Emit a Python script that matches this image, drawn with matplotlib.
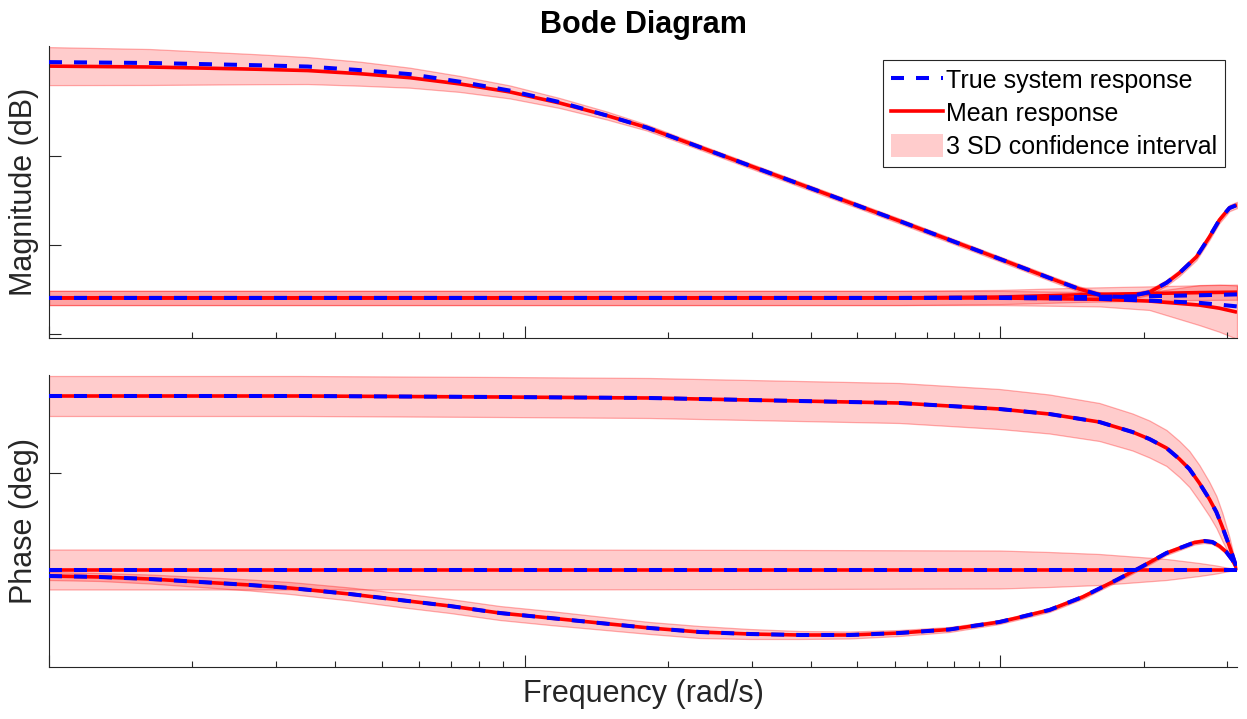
import numpy as np
import matplotlib
matplotlib.use("Agg")
import matplotlib.pyplot as plt
from matplotlib.patches import Patch
from matplotlib.lines import Line2D
from matplotlib.ticker import LogLocator, NullFormatter, FixedLocator

plt.rcParams['font.family'] = ['Liberation Sans', 'DejaVu Sans']

# ---------------- data (rad/s, dB, deg) ----------------
# Magnitude curve 1 (roll-off with high-frequency resonance)
m1_freq = [1.0, 1.63, 2.735, 3.50, 4.50, 5.73, 7.30, 9.30, 11.85, 14.87, 18.05, 23.32,
           37.8, 61.3, 99.5, 126.7, 146.5, 161.4, 171.9, 183.9, 205.6, 223.3, 237.7,
           258.1, 274.8, 288.4, 302.8, 314.16]
m1_true = [21.1, 20.9, 20.4, 20.1, 19.3, 18.4, 16.7, 14.7, 12.1, 9.1, 6.4, 2.0,
           -6.3, -14.6, -23.1, -27.4, -29.9, -31.2, -31.6, -31.7, -30.6, -28.5, -26.3,
           -22.7, -18.2, -14.4, -11.7, -11.0]
m1_mean = [20.2, 20.0, 19.5, 19.2, 18.5, 17.6, 16.2, 14.4, 11.9, 9.1, 6.4, 2.0,
           -6.3, -14.6, -23.1, -27.4, -29.9, -31.2, -31.6, -31.7, -30.6, -28.5, -26.3,
           -22.7, -18.2, -14.4, -11.7, -11.0]
m1_sd3 = [4.27, 4.04, 3.37, 3.03, 2.70, 2.25, 1.80, 1.46, 1.12, 0.90, 0.67, 0.56,
          0.56, 0.56, 0.56, 0.58, 0.6, 0.6, 0.6, 0.6, 0.62, 0.65, 0.68, 0.7, 0.7, 0.7,
          0.7, 0.7]

# Magnitude curve 2 (flat, slightly rising)
m2_freq = [1.0, 10.0, 61.3, 99.5, 146.5, 205.6, 261.8, 314.16]
m2_true = [-31.9, -31.9, -31.9, -31.8, -31.7, -31.5, -31.3, -31.1]
m2_mean = [-31.9, -31.9, -31.9, -31.7, -31.2, -30.9, -30.7, -30.6]
m2_sd3 = [1.6, 1.6, 1.6, 1.6, 1.6, 1.6, 1.65, 1.7]

# Magnitude curve 3 (flat, falling at high frequency)
m3_freq = [1.0, 10.0, 61.3, 99.5, 161.4, 205.6, 261.8, 288.4, 314.16]
m3_true = [-31.9, -31.9, -31.9, -31.9, -32.1, -32.5, -33.0, -33.4, -33.8]
m3_mean = [-31.9, -31.9, -31.9, -31.9, -32.2, -32.6, -33.5, -34.2, -35.1]
m3_sd3 = [1.6, 1.6, 1.6, 1.6, 1.6, 2.0, 4.5, 5.3, 6.0]

# Phase curve A (upper)
pa_freq = [1.0, 3.37, 8.86, 18.3, 37.8, 61.3, 78.1, 99.5, 126.7, 161.4, 189.4, 205.6,
           223.3, 237.7, 249.5, 261.8, 274.8, 284.3, 292.7, 302.8, 314.16]
pa_true = [77, 77, 76, 75, 72, 70, 67, 64, 59, 51, 41, 34, 25, 14, 4, -10, -26, -39,
           -54, -73, -96]
pa_mean = [77, 77, 76, 75, 72, 70, 67, 64, 59, 51, 41, 34, 25, 14, 4, -10, -26, -39,
           -54, -73, -96]
pa_sd3 = [20, 20, 20, 20, 20, 20, 20, 20, 19.5, 19, 18.5, 18.5, 18, 18, 18, 18, 17, 16,
          14, 9, 0]

# Phase curve B (flat)
pb_freq = [1.0, 10.0, 37.8, 99.5, 126.7, 161.4, 223.3, 261.8, 284.3, 314.16]
pb_true = [-96.5, -96.5, -96.5, -96.5, -96.5, -96.5, -96.5, -96.5, -96.5, -96.5]
pb_mean = [-96.5, -96.5, -96.5, -96.5, -96.5, -96.5, -96.5, -96.5, -96.5, -96.5]
pb_sd3 = [20, 20, 19.5, 19, 17.5, 15.5, 10.5, 6.5, 4, 0]

# Phase curve C (dip and peak)
pc_freq = [1.0, 1.28, 1.63, 2.08, 2.645, 3.21, 4.29, 5.46, 6.96, 8.86, 11.3, 14.37,
           18.3, 23.32, 29.7, 37.8, 48.2, 61.3, 78.1, 99.5, 108.1, 126.7, 148.7,
           175.3, 195.9, 223.3, 241.3, 255.6, 268.3, 278.8, 288.4, 298.4, 307.2, 314.16]
pc_true = [-103, -104, -106, -109, -112, -115, -121, -127, -133, -140, -145, -150,
           -155, -159, -161, -162, -162, -160, -156.5, -149, -145, -137, -124,
           -107, -95, -80, -74, -69.5, -68, -69, -73, -79, -87, -96]
pc_mean = list(pc_true)
pc_sd3 = [4, 4, 4.5, 5, 5.5, 6, 6.5, 7, 7, 7, 7, 6.5, 6, 6, 5, 4, 3.5, 3, 2.5, 2, 2,
          2, 2, 2, 2, 2, 2, 2, 2, 2, 2, 2, 1.5, 0]

mag_curves = [(m1_freq, m1_true, m1_mean, m1_sd3),
              (m2_freq, m2_true, m2_mean, m2_sd3),
              (m3_freq, m3_true, m3_mean, m3_sd3)]
phase_curves = [(pa_freq, pa_true, pa_mean, pa_sd3),
                (pb_freq, pb_true, pb_mean, pb_sd3),
                (pc_freq, pc_true, pc_mean, pc_sd3)]

labels = ["True system response", "Mean response", "3 SD confidence interval"]

# ---------------- figure ----------------
W, H = 1247, 719
fig = plt.figure(figsize=(W / 100, H / 100), dpi=100)

def ax_rect(l, t, r, b):
    return [l / W, 1 - b / H, (r - l) / W, (b - t) / H]

ax1 = fig.add_axes(ax_rect(49, 46, 1237, 338))
ax2 = fig.add_axes(ax_rect(49, 375, 1237, 667))

band_face = (1.0, 0.0, 0.0, 0.2)
band_edge = (1.0, 0.0, 0.0, 0.3)
red_lw = 2.6
blue_lw = 2.9
blue_dash = (13 / (blue_lw * 100 / 72), 12 / (blue_lw * 100 / 72))

def draw(ax, curves):
    for f, t, m, s in curves:
        m = np.asarray(m, float)
        s = np.asarray(s, float)
        ax.fill_between(f, m - s, m + s, facecolor=band_face, edgecolor=band_edge,
                        linewidth=0.9, zorder=1)
    for f, t, m, s in curves:
        ax.plot(f, m, color='red', lw=red_lw, zorder=2, solid_capstyle='butt',
                solid_joinstyle='round')
    for f, t, m, s in curves:
        ax.plot(f, t, color='blue', lw=blue_lw, dashes=blue_dash, zorder=3,
                dash_capstyle='butt')

draw(ax1, mag_curves)
draw(ax2, phase_curves)

xmin, xmax = 1.0, 314.16
spine_c = (0.15, 0.15, 0.15)
for ax in (ax1, ax2):
    ax.set_xscale('log')
    ax.set_xlim(xmin, xmax)
    ax.spines['top'].set_visible(False)
    ax.spines['right'].set_visible(False)
    for sp in ('left', 'bottom'):
        ax.spines[sp].set_color(spine_c)
        ax.spines[sp].set_linewidth(0.8)
    ax.xaxis.set_major_locator(FixedLocator([1, 10, 100]))
    ax.xaxis.set_minor_locator(LogLocator(base=10, subs=np.arange(2, 10)))
    ax.xaxis.set_major_formatter(NullFormatter())
    ax.xaxis.set_minor_formatter(NullFormatter())
    ax.yaxis.set_major_formatter(NullFormatter())
    ax.tick_params(axis='both', which='major', direction='in', length=8.6, width=0.8,
                   color=spine_c)
    ax.tick_params(axis='both', which='minor', direction='in', length=4.0, width=0.8,
                   color=spine_c)
    ax.tick_params(axis='y', which='minor', left=False)

ax1.set_ylim(-40.9, 24.72)
ax1.yaxis.set_major_locator(FixedLocator([-40, -20, 0]))
ax2.set_ylim(-194, 98)
ax2.yaxis.set_major_locator(FixedLocator([0]))

# legend
handles = [Line2D([], [], color='blue', lw=blue_lw, dashes=blue_dash),
           Line2D([], [], color='red', lw=red_lw),
           Patch(facecolor=(1, 0.8, 0.8), edgecolor='none')]
leg = ax1.legend(handles, labels, loc='upper right', bbox_to_anchor=(0.9897, 0.952),
                 borderaxespad=0, fontsize=18, frameon=True, fancybox=False,
                 edgecolor=spine_c, framealpha=1, handlelength=2.08,
                 handleheight=1.05, handletextpad=0.14, labelspacing=0.33,
                 borderpad=0.3)
leg.get_frame().set_linewidth(0.8)

# texts
fig.text(643 / W, 1 - 25 / H, "Bode Diagram", ha='center', va='center',
         fontsize=22, fontweight='bold')
fig.text(24 / W, 1 - 192 / H, "Magnitude (dB)", rotation=90, ha='center', va='center',
         fontsize=22, color=(0.15, 0.15, 0.15))
fig.text(24 / W, 1 - 521 / H, "Phase (deg)", rotation=90, ha='center', va='center',
         fontsize=22, color=(0.15, 0.15, 0.15))
fig.text(643 / W, 1 - 694 / H, "Frequency (rad/s)", ha='center', va='center',
         fontsize=22, color=(0.15, 0.15, 0.15))

fig.savefig("out.png", dpi=100)
